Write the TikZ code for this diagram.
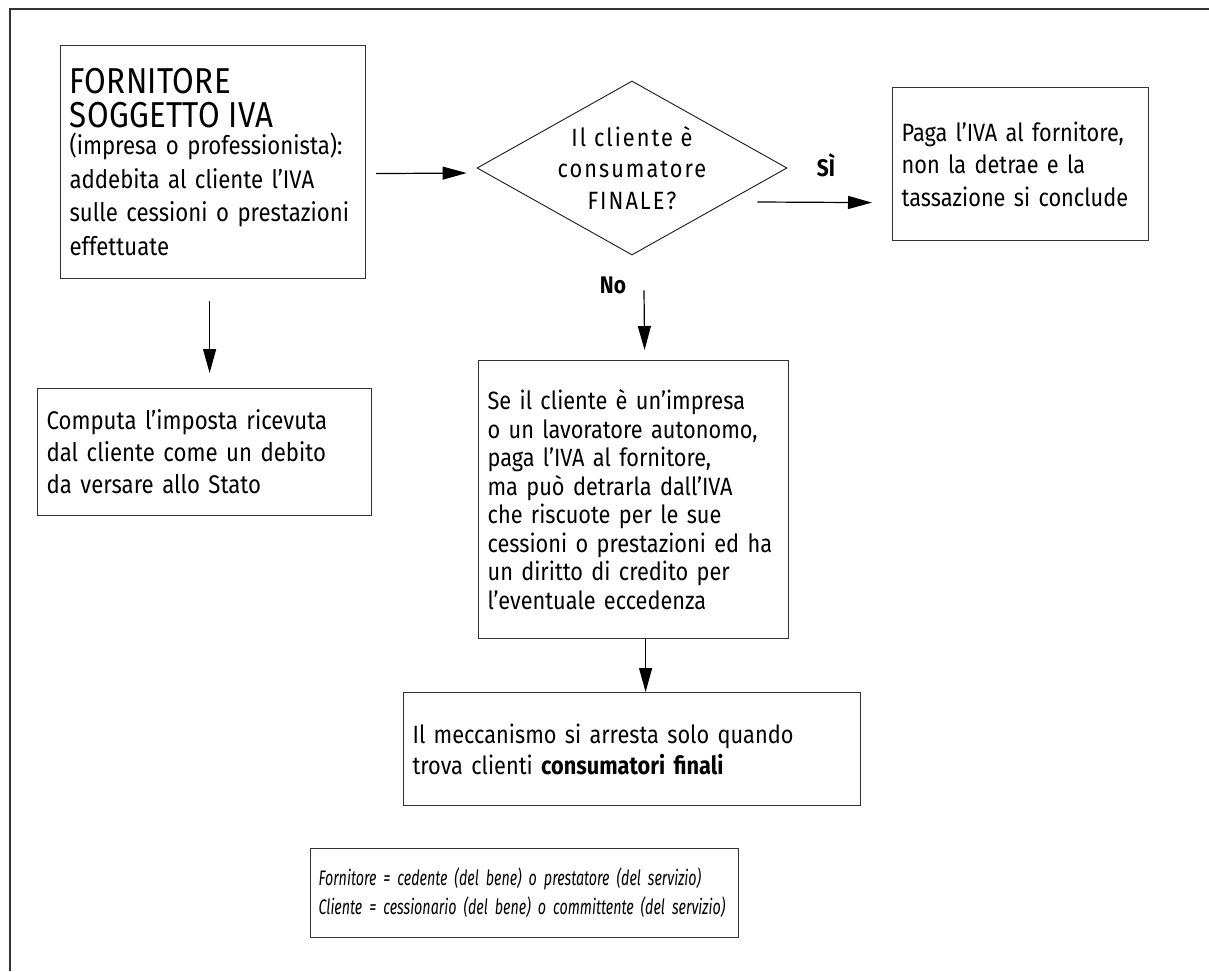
\documentclass[tikz,border=0pt]{standalone}
\usepackage{fontspec}
\setmainfont[FakeStretch=0.87]{Fira Sans}
\newfontfamily\notefont[FakeStretch=0.68]{Fira Sans}
\usetikzlibrary{shapes.geometric,arrows.meta}
\newcommand{\Lb}[1]{\makebox[0pt][l]{#1}}
\begin{document}
\begin{tikzpicture}[x=1pt,y=-1pt,
  frame/.style={draw=black!80, line width=1.3pt},
  box/.style={draw=black!80, line width=1.2pt, rectangle, anchor=north west,
    align=left, inner xsep=9pt, inner ysep=0pt,
    font=\fontsize{25}{28.5}\selectfont},
  arr/.style={draw=black, line width=1.2pt, -{Triangle[length=24pt,width=13pt]}},
  lbl/.style={font=\fontsize{24}{24}\selectfont\bfseries, inner sep=0pt}]
\useasboundingbox (0,0) rectangle (1209,971);
\fill[white] (0,0) rectangle (1209,971);
\draw[frame] (10,971) -- (10,9) -- (1209,9);

\node[box, minimum width=305pt, minimum height=233pt, text width=287pt,
  font=\fontsize{25.5}{33.5}\selectfont] (forn) at (60,45)
  {{\fontsize{36}{32}\selectfont\addfontfeature{LetterSpace=1}\Lb{FORNITORE}\\\Lb{SOGGETTO IVA}}\\[-6pt]
   \Lb{(impresa o professionista):}\\
   \Lb{addebita al cliente l'IVA}\\
   \Lb{sulle cessioni o prestazioni}\\
   \Lb{effettuate}};

\node[draw=black!90, line width=0.9pt, diamond, minimum width=310pt, minimum height=174pt,
  inner sep=0pt] (q) at (632,168) {};
\node[align=center, inner sep=0pt,
  font=\fontsize{25}{31.5}\selectfont\addfontfeature{LetterSpace=8}] (qtext) at (q.center)
  {Il cliente è\\consumatore\\FINALE?};

\node[box, minimum width=256pt, minimum height=153pt, text width=238pt,
  font=\fontsize{25}{32.5}\selectfont] (paga) at (892,87)
  {\Lb{Paga l'IVA al fornitore,}\\
   \Lb{non la detrae e la}\\
   \Lb{tassazione si conclude}};

\node[box, minimum width=334pt, minimum height=127pt, text width=316pt,
  font=\fontsize{25.5}{32}\selectfont] (comp) at (37,388)
  {\Lb{Computa l'imposta ricevuta}\\
   \Lb{dal cliente come un debito}\\
   \Lb{da versare allo Stato}};

\node[box, minimum width=310pt, minimum height=278pt, text width=292pt] (se) at (478,360)
  {\Lb{Se il cliente è un'impresa}\\
   \Lb{o un lavoratore autonomo,}\\
   \Lb{paga l'IVA al fornitore,}\\
   \Lb{ma può detrarla dall'IVA}\\
   \Lb{che riscuote per le sue}\\
   \Lb{cessioni o prestazioni ed ha}\\
   \Lb{un diritto di credito per}\\
   \Lb{l'eventuale eccedenza}};

\node[box, minimum width=457pt, minimum height=113pt, text width=439pt,
  font=\fontsize{25}{31}\selectfont] (mecc) at (403,692)
  {\Lb{Il meccanismo si arresta solo quando}\\
   \Lb{trova clienti \textbf{consumatori finali}}};

\node[box, minimum width=428pt, minimum height=89pt, text width=412pt, inner xsep=8pt,
  font=\notefont\fontsize{21}{29}\selectfont\itshape] (nota) at (310,848)
  {\Lb{Fornitore = cedente (del bene) o prestatore (del servizio)}\\
   \Lb{Cliente = cessionario (del bene) o committente (del servizio)}};

\node[lbl] (si) at (826,165) {SÌ};
\node[lbl] (no) at (613,285) {No};

\draw[arr] ([xshift=10pt,yshift=-11.5pt]forn.east) -- ([xshift=-10pt,yshift=-5pt]q.west);
\draw[arr] ([xshift=-30pt,yshift=-34pt]q.east) -- ([xshift=-20pt,yshift=-38.5pt]paga.west);
\draw[arr] ([xshift=12pt,yshift=-35pt]q.south) -- ([xshift=11pt,yshift=10pt]se.north);
\draw[arr] ([xshift=12pt]se.south) -- ([xshift=12pt]se.south |- mecc.north);
\draw[arr] ([xshift=-3.5pt,yshift=-22pt]forn.south) -- ([xshift=-3.5pt,yshift=15pt]forn.south |- comp.north);
\end{tikzpicture}
\end{document}
